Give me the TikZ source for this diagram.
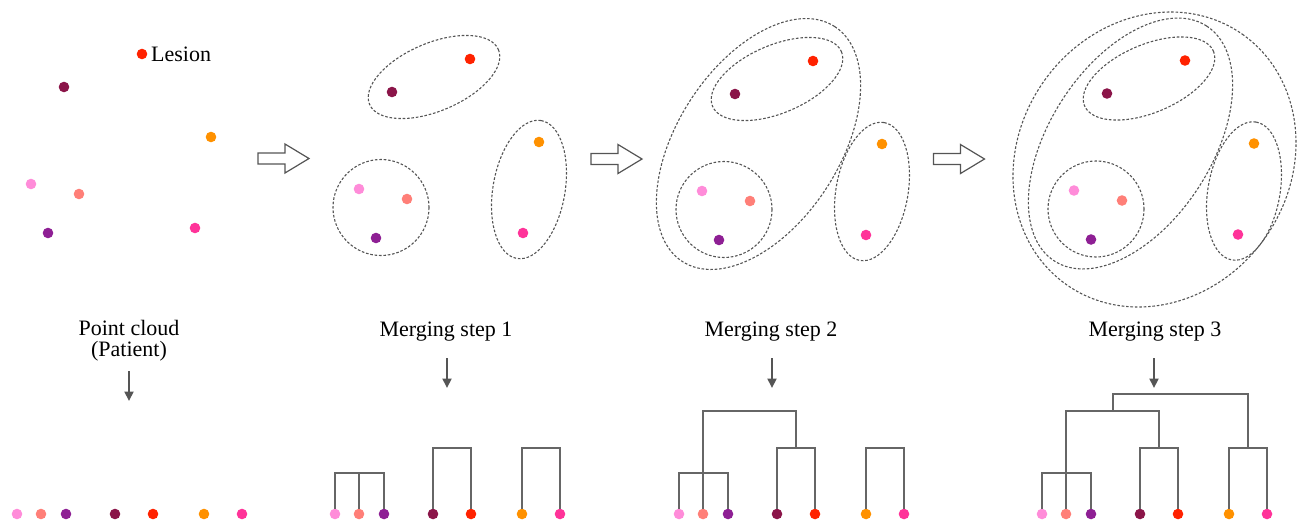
\documentclass[tikz,border=0pt]{standalone}
\usepackage{fontspec}
\setmainfont{Liberation Serif}
\usetikzlibrary{calc,arrows.meta}
\definecolor{lpink}{HTML}{FF8CD9}
\definecolor{salmon}{HTML}{FF7F78}
\definecolor{purp}{HTML}{8E1F94}
\definecolor{maroon}{HTML}{8B1549}
\definecolor{lred}{HTML}{FF2200}
\definecolor{orng}{HTML}{FF9100}
\definecolor{magen}{HTML}{FF3399}
\definecolor{dashgray}{HTML}{555555}
\definecolor{dgray}{HTML}{666666}
\definecolor{agray}{HTML}{555555}
\newcommand\mycloud{%
  \node[dot=lpink]  (pink)    at (31,184) {};
  \node[dot=salmon] (salmon)  at (79,194) {};
  \node[dot=purp]   (purple)  at (48,233) {};
  \node[dot=maroon] (maroon)  at (64,87) {};
  \node[dot=lred]   (red)     at (142,54) {};
  \node[dot=orng]   (orange)  at (211,137) {};
  \node[dot=magen]  (magenta) at (195,228) {};}
\newcommand\myleaves{%
  \node[dot=lpink]  (pinkL)    at (17,514) {};
  \node[dot=salmon] (salmonL)  at (41,514) {};
  \node[dot=purp]   (purpleL)  at (66,514) {};
  \node[dot=maroon] (maroonL)  at (115,514) {};
  \node[dot=lred]   (redL)     at (153,514) {};
  \node[dot=orng]   (orangeL)  at (204,514) {};
  \node[dot=magen]  (magentaL) at (242,514) {};}
\newcommand\grptop{\draw[grp,shift={(106,72)},rotate=23] (0,0) ellipse [x radius=70,y radius=34];}
\newcommand\grpcirc{\draw[grp] (53,202.5) circle [radius=48];}
\newcommand\grpom{\draw[grp,shift={(201,184.5)},rotate=80] (0,0) ellipse [x radius=70,y radius=36];}
\newcommand\grpbig{\draw[grp,shift={(87.5,137)},rotate=57] (0,0) ellipse [x radius=140,y radius=81];}
\newcommand\grpouter{\draw[grp,shift={(111.5,153)},rotate=55] (0,0) ellipse [x radius=153,y radius=135.5];}
\newcommand\hollowarrow{\draw[hollow] (258,153) -- (285,153) -- (285,144) -- (309,158.5) -- (285,173) -- (285,164) -- (258,164) -- cycle;}
\begin{document}
\begin{tikzpicture}[x=1pt,y=-1pt,
  dot/.style={circle,inner sep=0pt,minimum size=10.6pt,fill=#1,draw=none},
  grp/.style={draw=dashgray,line width=1.1pt,dash pattern=on 2.6pt off 1.8pt},
  dendro/.style={draw=dgray,line width=1.8pt},
  down/.style={draw=agray,line width=2pt,-{Triangle[width=9pt,length=9.5pt]}},
  hollow/.style={draw=agray,line width=1.2pt,fill=white,line join=miter},
  lbl/.style={font=\fontsize{22}{21}\selectfont,inner sep=0pt,text=black}]
\useasboundingbox (0,0) rectangle (1304,520);
% level coordinates
\coordinate (y3) at (0,473);
\coordinate (y2) at (0,448);
\coordinate (y1) at (0,411);
\coordinate (y0) at (0,394);
% panel 1
\begin{scope}[name prefix=a-]
  \mycloud
\end{scope}
\node[lbl,anchor=base west] (lesionlab) at (151,61) {Lesion};
% panel 2
\begin{scope}[shift={(328,5)},name prefix=b-]
  \grptop \grpcirc \grpom
  \mycloud
\end{scope}
% panel 3
\begin{scope}[shift={(671,7)},name prefix=c-]
  \grpbig \grptop \grpcirc \grpom
  \mycloud
\end{scope}
% panel 4
\begin{scope}[shift={(1043,6.5)},name prefix=d-]
  \grpouter \grpbig \grptop \grpcirc \grpom
  \mycloud
\end{scope}
% hollow arrows
\hollowarrow
\begin{scope}[shift={(333,0.5)}] \hollowarrow \end{scope}
\begin{scope}[shift={(675.5,0.5)}] \hollowarrow \end{scope}
% labels
\node[lbl,anchor=north,align=center] (lab-a) at (129,320) {Point cloud\\(Patient)};
\node[lbl,anchor=base] (lab-b) at (446,336) {Merging step 1};
\node[lbl,anchor=base] (lab-c) at (771,336) {Merging step 2};
\node[lbl,anchor=base] (lab-d) at (1155,336) {Merging step 3};
% down arrows
\coordinate (a-s) at (129,371); \coordinate (a-e) at (129,401);
\coordinate (b-s) at (447,358); \coordinate (b-e) at (447,388);
\coordinate (c-s) at (772,358); \coordinate (c-e) at (772,388);
\coordinate (d-s) at (1154,358); \coordinate (d-e) at (1154,388);
\draw[down] (a-s) -- (a-e);
\draw[down] (b-s) -- (b-e);
\draw[down] (c-s) -- (c-e);
\draw[down] (d-s) -- (d-e);
% leaves
\begin{scope}[name prefix=a-] \myleaves \end{scope}
\begin{scope}[shift={(318,0)},name prefix=b-] \myleaves \end{scope}
\begin{scope}[shift={(662,0)},name prefix=c-] \myleaves \end{scope}
\begin{scope}[shift={(1025,0)},name prefix=d-] \myleaves \end{scope}
% dendrogram panel 2
\draw[dendro] (b-pinkL) -- (b-pinkL |- y3) -- (b-purpleL |- y3) -- (b-purpleL);
\draw[dendro] (b-salmonL) -- (b-salmonL |- y3);
\draw[dendro] (b-maroonL) -- (b-maroonL |- y2) -- (b-redL |- y2) -- (b-redL);
\draw[dendro] (b-orangeL) -- (b-orangeL |- y2) -- (b-magentaL |- y2) -- (b-magentaL);
% dendrogram panel 3
\coordinate (c-mr) at ($(c-maroonL)!0.5!(c-redL)$);
\draw[dendro] (c-pinkL) -- (c-pinkL |- y3) -- (c-purpleL |- y3) -- (c-purpleL);
\draw[dendro] (c-maroonL) -- (c-maroonL |- y2) -- (c-redL |- y2) -- (c-redL);
\draw[dendro] (c-orangeL) -- (c-orangeL |- y2) -- (c-magentaL |- y2) -- (c-magentaL);
\draw[dendro] (c-salmonL) -- (c-salmonL |- y1) -- (c-mr |- y1) -- (c-mr |- y2);
% dendrogram panel 4
\coordinate (d-mr) at ($(d-maroonL)!0.5!(d-redL)$);
\coordinate (d-om) at ($(d-orangeL)!0.5!(d-magentaL)$);
\coordinate (d-lm) at ($(d-salmonL)!0.5!(d-mr)+(0.5,0)$);
\draw[dendro] (d-pinkL) -- (d-pinkL |- y3) -- (d-purpleL |- y3) -- (d-purpleL);
\draw[dendro] (d-maroonL) -- (d-maroonL |- y2) -- (d-redL |- y2) -- (d-redL);
\draw[dendro] (d-orangeL) -- (d-orangeL |- y2) -- (d-magentaL |- y2) -- (d-magentaL);
\draw[dendro] (d-salmonL) -- (d-salmonL |- y1) -- (d-mr |- y1) -- (d-mr |- y2);
\draw[dendro] (d-lm |- y1) -- (d-lm |- y0) -- (d-om |- y0) -- (d-om |- y2);
\end{tikzpicture}
\end{document}
